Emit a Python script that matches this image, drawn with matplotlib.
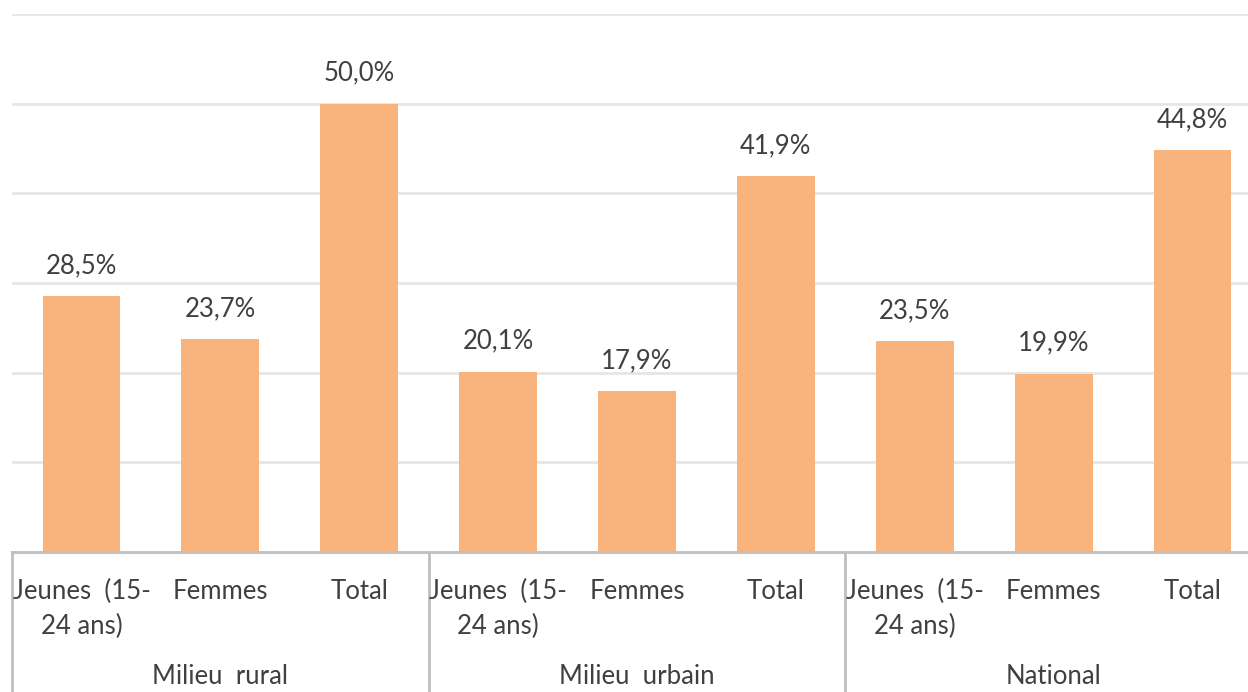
import numpy as np
import matplotlib.pyplot as plt
from matplotlib import transforms

# data
groups = ["Milieu  rural", "Milieu  urbain", "National"]
categories = ["Jeunes  (15-\n24 ans)", "Femmes", "Total"] * 3
values = [28.5, 23.7, 50.0, 20.1, 17.9, 41.9, 23.5, 19.9, 44.8]

bar_color = "#F8B47C"
text_color = "#404040"
plt.rcParams['font.family'] = ['Lato', 'DejaVu Sans']

fig = plt.figure(figsize=(12.48, 6.92), dpi=100)
W, H = 1248, 692
ax = fig.add_axes([12 / W, (H - 552) / H, 1250 / W, 538 / H])

x = np.arange(len(values))
ax.bar(x, values, width=0.56, color=bar_color, zorder=3)

ax.set_xlim(-0.5, len(values) - 0.5)
ax.set_ylim(0, 60)
ax.set_yticks(np.arange(10, 61, 10))
ax.yaxis.grid(True, color="#E6E6E6", linewidth=2)
ax.tick_params(left=False, bottom=False, labelleft=False, labelbottom=False)
for s in ["top", "right", "left"]:
    ax.spines[s].set_visible(False)
ax.spines["bottom"].set_color("#BFBFBF")
ax.spines["bottom"].set_linewidth(2)
ax.spines["bottom"].set_zorder(4)

fs = 18.5

# value labels
for xi, v in zip(x, values):
    ax.annotate(f"{v:.1f}%".replace(".", ","), (xi, v), xytext=(0, 18),
                textcoords="offset pixels", ha="center", va="bottom",
                fontsize=fs, color=text_color)

# category labels
for xi, c in zip(x, categories):
    ax.annotate(c, (xi, 0), xycoords=("data", "axes fraction"),
                xytext=(0, -27), textcoords="offset pixels",
                ha="center", va="top", fontsize=fs, color=text_color,
                linespacing=1.5, annotation_clip=False)

# group labels and separators
trans = transforms.blended_transform_factory(ax.transData, ax.transAxes)
for gi, g in enumerate(groups):
    ax.annotate(g, (gi * 3 + 1, 0), xycoords=("data", "axes fraction"),
                xytext=(0, -124), textcoords="offset pixels",
                ha="center", va="center", fontsize=fs, color=text_color,
                annotation_clip=False)
    ax.plot([gi * 3 - 0.5, gi * 3 - 0.5], [0, -0.3], transform=trans,
            color="#BFBFBF", linewidth=2, clip_on=False)

fig.savefig("out.png", dpi=100)
